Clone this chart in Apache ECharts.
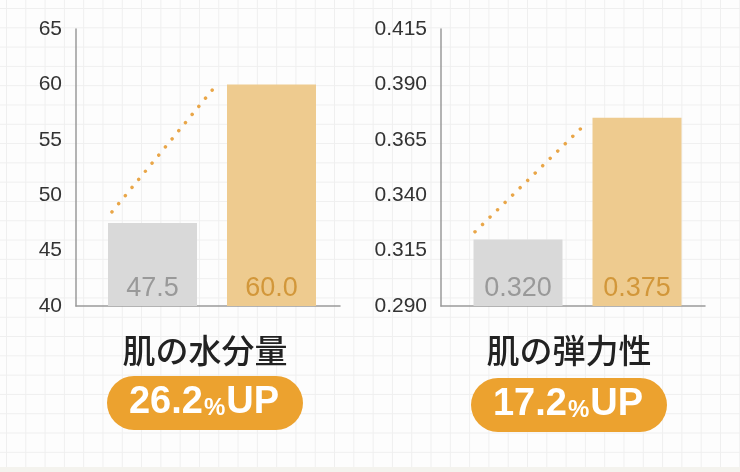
<!DOCTYPE html>
<html>
<head>
<meta charset="utf-8">
<script src="https://cdn.jsdelivr.net/npm/echarts@6/dist/echarts.min.js"></script>
<style>
  html, body { margin: 0; padding: 0; }
  #wrap {
    width: 740px; height: 472px; position: relative;
    background-color: #fdfdfd;
    background-image:
      linear-gradient(to right, #efefef 1px, transparent 1px),
      linear-gradient(to bottom, #efefef 1px, transparent 1px);
    background-size: 19.3px 19.3px;
    background-position: 6px 8px;
  }
  #strip { position: absolute; left: 0; right: 0; top: 467px; bottom: 0; background: #f4f3ee; }
  #chart { position: absolute; left: 0; top: 0; width: 740px; height: 472px; }
</style>
</head>
<body>
<div id="wrap">
  <div id="strip"></div>
  <div id="chart"></div>
</div>
<script>
// データ
const categories = ['使用前', '使用後'];
const moistureValues = [47.5, 60.0];
const elasticityValues = [0.320, 0.375];
// 点線（上昇の矢印）
const moistureTrend = [48.5, 59.9];
const elasticityTrend = [0.3235, 0.3715];
// 軸
const moistureAxis = { min: 40, max: 65, interval: 5, digits: 0 };
const elasticityAxis = { min: 0.29, max: 0.415, interval: 0.025, digits: 3 };
const titles = ['肌の水分量', '肌の弾力性'];
const gains = ['26.2', '17.2'];

const barColors = ['#d9d9d9', '#eecb8f'];
const labelColors = ['#999999', '#d2973a'];
const orange = '#eca22f';

const chart = echarts.init(document.getElementById('chart'), null, { renderer: 'canvas' });

const plotTop = 29, plotHeight = 277;
const panels = [
  { axisLeft: 76, barLeft: 93, lineLeft: 112, lineWidth: 104, values: moistureValues, trend: moistureTrend, axis: moistureAxis, labelDigits: 1 },
  { axisLeft: 441, barLeft: 458.5, lineLeft: 475, lineWidth: 109, values: elasticityValues, trend: elasticityTrend, axis: elasticityAxis, labelDigits: 3 }
];

const grid = [], xAxis = [], yAxis = [], series = [];

panels.forEach((p, k) => {
  const g0 = grid.length;
  grid.push({ left: p.axisLeft, width: 264, top: plotTop, height: plotHeight });
  grid.push({ left: p.barLeft, width: 238, top: plotTop, height: plotHeight });
  grid.push({ left: p.lineLeft, width: p.lineWidth, top: plotTop, height: plotHeight });

  // 表示用の軸
  xAxis.push({
    type: 'category', gridIndex: g0, data: categories,
    axisLine: { lineStyle: { color: '#9a9a9a', width: 1.5 } },
    axisTick: { show: false }, axisLabel: { show: false }
  });
  yAxis.push({
    type: 'value', gridIndex: g0,
    min: p.axis.min, max: p.axis.max, interval: p.axis.interval,
    axisLine: { show: true, lineStyle: { color: '#9a9a9a', width: 1.5 } },
    axisTick: { show: false },
    splitLine: { show: false },
    axisLabel: {
      margin: 14, fontSize: 21, color: '#333',
      fontFamily: 'Liberation Sans',
      formatter: v => v.toFixed(p.axis.digits)
    }
  });
  // 棒と点線用（非表示）
  [g0 + 1, g0 + 2].forEach((gi, j) => {
    xAxis.push({ type: 'category', gridIndex: gi, data: categories, show: false, boundaryGap: j === 0 });
    yAxis.push({ type: 'value', gridIndex: gi, min: p.axis.min, max: p.axis.max, show: false });
  });

  series.push({
    type: 'bar', xAxisIndex: g0 + 1, yAxisIndex: g0 + 1, barWidth: 89,
    data: p.values.map((v, i) => ({
      value: v,
      itemStyle: { color: barColors[i] },
      label: { color: labelColors[i] }
    })),
    label: {
      show: true, position: 'insideBottom', distance: 4,
      fontSize: 27, fontFamily: 'Liberation Sans',
      formatter: d => d.value.toFixed(p.labelDigits)
    },
    silent: true
  });
  series.push({
    type: 'line', xAxisIndex: g0 + 2, yAxisIndex: g0 + 2,
    data: p.trend, symbol: 'none', silent: true,
    lineStyle: { color: '#e9a648', width: 3.5, type: [0.01, 10.5], cap: 'round' }
  });
});

// タイトルと「UP」ラベル
const centers = [205, 569];
const pillTops = [376, 378];
const graphic = [];
centers.forEach((cx, i) => {
  graphic.push({
    type: 'text', x: cx, y: 350,
    style: {
      text: titles[i], fill: '#222', font: '500 33px "Noto Sans CJK JP"',
      textAlign: 'center', textVerticalAlign: 'middle'
    }
  });
  graphic.push({
    type: 'rect',
    shape: { x: cx - 98, y: pillTops[i], width: 196, height: 54, r: 27 },
    style: { fill: orange }
  });
  graphic.push({
    type: 'text', x: cx - 1, y: pillTops[i] + 27,
    style: {
      text: '{n|' + gains[i] + '}{p|%}{n|UP}',
      textAlign: 'center', textVerticalAlign: 'middle',
      rich: {
        n: { fontSize: 38, fontWeight: 'bold', fill: '#fff', fontFamily: 'Liberation Sans' },
        p: { fontSize: 24, fontWeight: 'bold', fill: '#fff', fontFamily: 'Liberation Sans', padding: [11, 1, 0, 1] }
      }
    }
  });
});

chart.setOption({
  animation: false,
  backgroundColor: 'transparent',
  grid, xAxis, yAxis, series, graphic
});
</script>
</body>
</html>
